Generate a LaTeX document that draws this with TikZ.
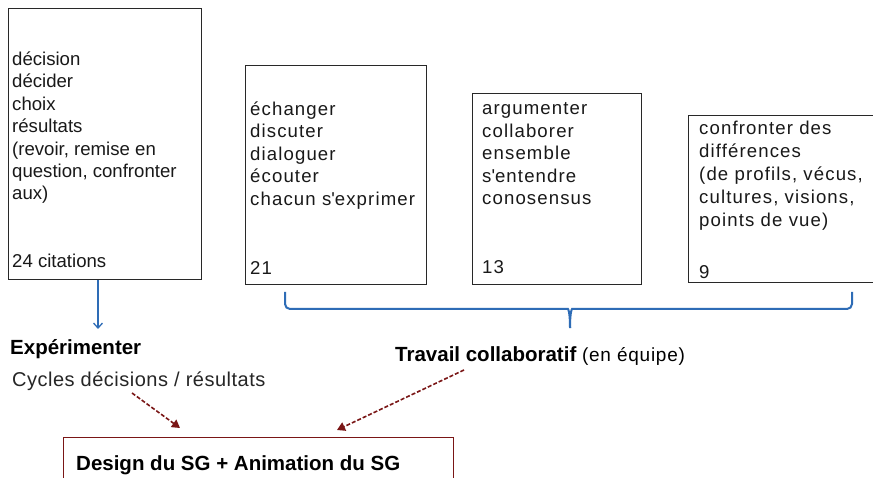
\documentclass[tikz,border=0pt]{standalone}
\usepackage{fontspec}
\setmainfont{Liberation Sans}
\newfontfamily\spacedfont[LetterSpace=6]{Liberation Sans}
\newfontfamily\slightfont[LetterSpace=2.5]{Liberation Sans}
\newfontfamily\medfont[LetterSpace=4]{Liberation Sans}
\usetikzlibrary{arrows.meta}
\definecolor{braceblue}{RGB}{46,108,182}
\definecolor{darkred}{RGB}{122,22,22}
\definecolor{boxgray}{RGB}{40,40,40}
\begin{document}
\begin{tikzpicture}[x=1pt,y=-1pt,
  boxst/.style={draw=boxgray, line width=1.3pt, inner sep=0pt, anchor=north west, rectangle},
  txt/.style={anchor=base west, inner sep=0pt, font=\fontsize{18.6}{22}\selectfont, text=black!90},
  stxt/.style={txt, font=\spacedfont\fontsize{18.6}{22}\selectfont},
  boldlab/.style={anchor=base west, inner sep=0pt, font=\fontsize{20.5}{24}\selectfont\bfseries},
  normlab/.style={anchor=base west, inner sep=0pt, font=\slightfont\fontsize{20}{24}\selectfont, text=black!85},
  bluearrow/.style={draw=braceblue, line width=1.3pt, -{Straight Barb[length=5pt,width=9pt]}},
  bluebrace/.style={draw=braceblue, line width=2pt},
  redarrow/.style={draw=darkred, line width=1.6pt, dash pattern=on 4pt off 2pt, -{Triangle[length=8pt,width=9pt]}},
  redbox/.style={draw=darkred, line width=1.3pt, inner sep=0pt, anchor=north west, rectangle}]
\useasboundingbox (0,0) rectangle (873,478);
\fill[white] (0,0) rectangle (873,478);
% boxes
\node[boxst, minimum width=193pt, minimum height=271pt] (b1) at (8,8) {};
\node[boxst, minimum width=181pt, minimum height=219pt] (b2) at (245,65) {};
\node[boxst, minimum width=169pt, minimum height=191pt] (b3) at (472,93) {};
\node[boxst, minimum width=203pt, minimum height=167pt] (b4) at (688,115) {};
\node[redbox, minimum width=390pt, minimum height=63pt] (b5) at (63,437) {};
% box 1 text
\foreach \t [count=\i] in {décision,décider,choix,résultats,{(revoir, remise en},{question, confronter},aux)}
  \node[txt] (ta\i) at (12,{65.5+22.4*(\i-1)}) {\t};
\node[txt] (na) at (12,268) {24 citations};
% box 2 text
\foreach \t [count=\i] in {échanger,discuter,dialoguer,écouter,chacun s\textquotesingle exprimer}
  \node[stxt] (tb\i) at (250,{115.5+22.4*(\i-1)}) {\t};
\node[stxt] (nb) at (250,275) {21};
% box 3 text
\foreach \t [count=\i] in {argumenter,collaborer,ensemble,s\textquotesingle entendre,conosensus}
  \node[stxt] (tc\i) at (482,{115+22.4*(\i-1)}) {\t};
\node[stxt] (nc) at (482,274) {13};
% box 4 text
\foreach \t [count=\i] in {confronter des,différences,{(de profils, vécus,},{cultures, visions,},points de vue)}
  \node[stxt] (td\i) at (699,{135+23*(\i-1)}) {\t};
\node[stxt] (nd) at (699,278.5) {9};
% blue arrow
\coordinate (ea) at (98,329);
\draw[bluearrow] (b1.south west -| ea) -- (ea);
% brace
\coordinate (brL) at (285,292);
\coordinate (brR) at (852,292);
\coordinate (brT) at (570,328);
\draw[bluebrace] (brL) [rounded corners=5pt] |- (563,309) [sharp corners] .. controls (568,309) and (570,311) .. (brT);
\draw[bluebrace] (brR) [rounded corners=5pt] |- (577,309) [sharp corners] .. controls (572,309) and (570,311) .. (brT);
% labels
\node[boldlab] (exp) at (10,355) {Expérimenter};
\node[normlab] (cyc) at (12,386) {Cycles décisions / résultats};
\node[boldlab] (trav) at (395,362) {Travail collaboratif \mdseries\medfont\fontsize{19}{24}\selectfont(en équipe)};
\node[boldlab] (des) at (76,470) {Design du SG + Animation du SG};
% red dashed arrows
\coordinate (d1s) at (132,393);
\coordinate (d1e) at (180,428);
\coordinate (d2s) at (464,370);
\coordinate (d2e) at (337,430);
\draw[redarrow] (d1s) -- (d1e);
\draw[redarrow] (d2s) -- (d2e);
\end{tikzpicture}
\end{document}
